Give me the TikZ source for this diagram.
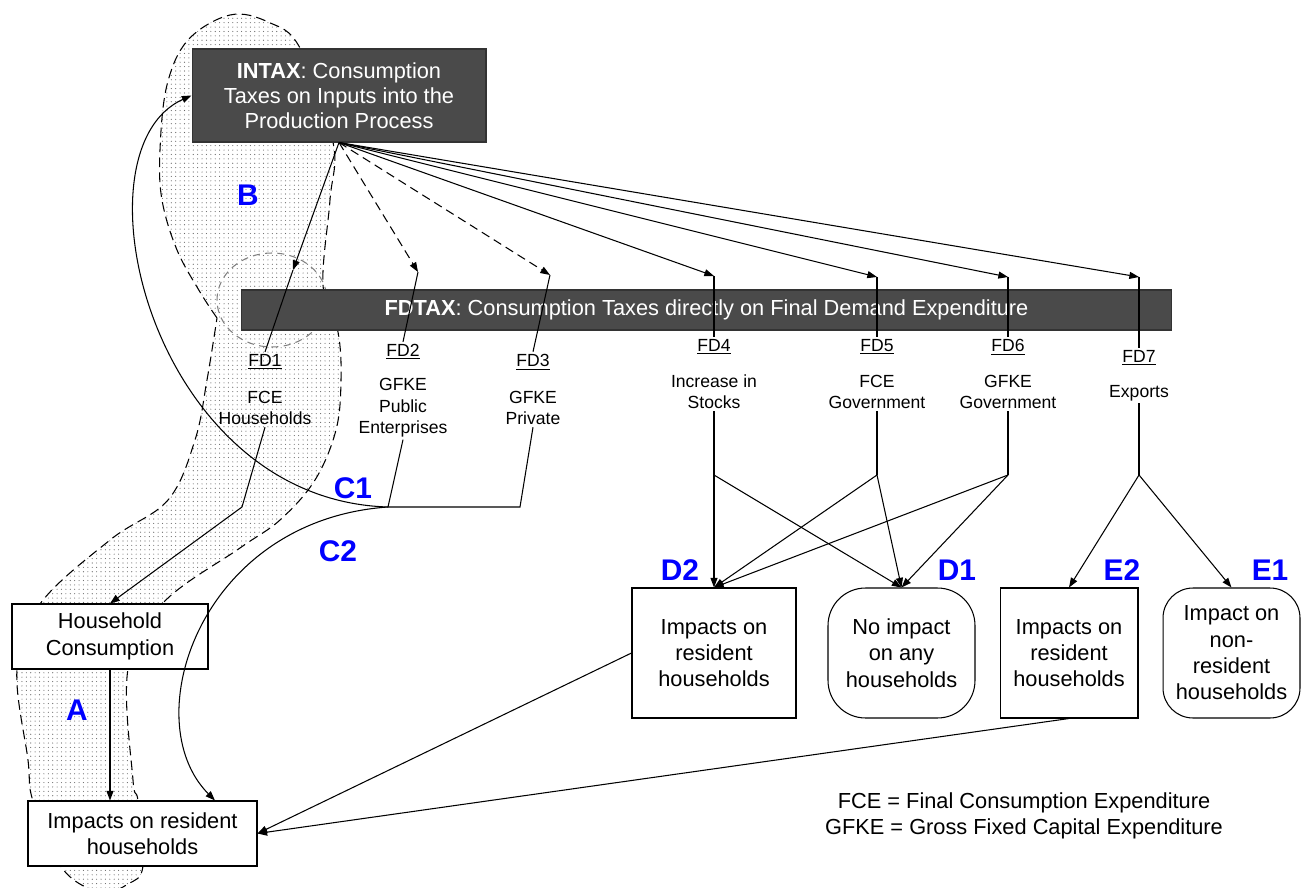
\documentclass[tikz,border=0pt]{standalone}
\usepackage{fontspec}
\setmainfont{Liberation Sans}
\usetikzlibrary{arrows.meta,patterns.meta}
\definecolor{taxgrey}{RGB}{74,74,74}
\definecolor{zoneblue}{RGB}{0,0,255}
\tikzset{
  taxbox/.style={draw=black!80, fill=taxgrey, text=white, align=center, inner sep=0pt,
    font=\fontsize{12.4}{14.2}\selectfont},
  outbox/.style={draw, fill=white, align=center, inner sep=0pt, font=\fontsize{12.4}{15}\selectfont},
  fdnum/.style={font=\fontsize{10}{12}\selectfont, inner sep=1pt},
  fdtext/.style={align=center, font=\fontsize{10}{12.2}\selectfont, inner sep=1pt},
  zone/.style={text=zoneblue, font=\fontsize{17}{17}\selectfont\bfseries},
  flow/.style={-{Triangle[length=5.5pt,width=4pt]}},
  dashflow/.style={flow, dash pattern=on 5pt off 3pt},
  region/.style={dash pattern=on 5.5pt off 3pt, pattern={Dots[distance=2.5pt,radius=0.32pt]}, pattern color=black!60}
}
\begin{document}
\begin{tikzpicture}[x=0.02cm,y=-0.02cm,line width=0.6pt]
\useasboundingbox (0,0) rectangle (1301,888);

% shaded zones A and B
\draw[region] plot[smooth, tension=0.6] coordinates {(217,318) (200,292) (177,250) (162,200) (160,150)
  (167,85) (188,40) (230,15) (268,22) (300,48) (333,142) (330,200) (323,285) (338,332) (341,380)
  (336,430) (315,480) (280,520) (240,548) (163,603) (128,669) (133,780) (138,801) (143,866)
  (128,884) (100,892) (62,868) (33,801) (28,760) (17,669) (40,604) (110,540) (168,500)
  (195,440) (207,380) (217,318)} -- cycle;
\draw[gray, dash pattern=on 4pt off 3pt] (272,300) ellipse [x radius=55, y radius=47];

% tax boxes
\node[taxbox, minimum width=5.88cm, minimum height=1.86cm] (intax) at (339,95.5)
  {\textbf{INTAX}: Consumption\\Taxes on Inputs into the\\Production Process};
\node[taxbox, minimum width=18.62cm, minimum height=0.8cm] (fdtax) at (706.5,310)
  {\textbf{FDTAX}: Consumption Taxes directly on Final Demand Expenditure};

% final demand categories
\foreach \n/\x/\y in {1/265/362,2/403/352,3/533/362,4/714/347,5/877/347,6/1008/347,7/1139/358}
  \node[fdnum] (fd\n) at (\x,\y) {\underline{FD\n}};
\node[fdtext] (hh) at (265,408) {FCE\\Households};
\node[fdtext] (gfpub) at (403,408) {GFKE\\Public\\Enterprises};
\node[fdtext] (gfpriv) at (533,408) {GFKE\\Private};
\node[fdtext] (stocks) at (714,392) {Increase in\\Stocks};
\node[fdtext] (fcegov) at (877,392) {FCE\\Government};
\node[fdtext] (gfgov) at (1008,392) {GFKE\\Government};
\node[fdtext] (exports) at (1139,393) {Exports};

% impact boxes
\node[outbox, minimum width=3.92cm, minimum height=1.3cm] (hc) at (110,636.5) {Household\\Consumption};
\node[outbox, minimum width=4.58cm, minimum height=1.3cm] (imp) at (142.5,833.5) {Impacts on resident\\households};
\node[outbox, minimum width=3.28cm, minimum height=2.6cm] (d2) at (714,653) {Impacts on\\resident\\households};
\node[outbox, rounded corners=0.75cm, minimum width=2.94cm, minimum height=2.6cm] (d1) at (901.5,653) {No impact\\on any\\households};
\node[outbox, minimum width=2.76cm, minimum height=2.6cm] (e2) at (1069,653) {Impacts on\\resident\\households};
\node[outbox, rounded corners=0.6cm, minimum width=2.74cm, minimum height=2.6cm] (e1) at (1231.5,653) {Impact on\\non-\\resident\\households};

% zone labels
\node[zone] (zoneA) at (77,710) {A};
\node[zone] (zoneB) at (248,195) {B};
\node[zone] (zoneC1) at (353,488) {C1};
\node[zone] (zoneC2) at (338,551) {C2};
\node[zone] (zoneD2) at (680,570) {D2};
\node[zone] (zoneD1) at (957,570) {D1};
\node[zone] (zoneE2) at (1122,570) {E2};
\node[zone] (zoneE1) at (1270,570) {E1};

\node[align=center, font=\fontsize{12.4}{14.8}\selectfont] (legend) at (1024,816)
  {FCE = Final Consumption Expenditure\\GFKE = Gross Fixed Capital Expenditure};

% INTAX to final demand
\foreach \n/\x/\y in {1/293/270,2/418/272,3/550/275,4/714/276,5/877/277,6/1008/277,7/1139/277}
  \coordinate (tip\n) at (\x,\y);
\foreach \n in {1,4,5,6,7}
  \draw[flow] (intax.south) -- (tip\n);
\foreach \n in {2,3}
  \draw[dashflow] (intax.south) -- (tip\n);
\foreach \n in {1,...,7}
  \draw (tip\n) -- (fd\n.north);

% households and enterprises
\coordinate (bendhh) at (242,507);
\coordinate (join) at (388,507);
\coordinate (bendpriv) at (520,507);
\draw[flow] (hh.south) -- (bendhh) -- (hc.north);
\draw (gfpub.south) -- (join);
\draw (gfpriv.south) -- (bendpriv) -- (join);
\draw[flow] (join) .. controls (150,500) and (70,150) .. (intax.west);
\draw[flow] (join) .. controls (200,520) and (135,720) .. ([xshift=1.45cm]imp.north);
\draw[flow] (hc.south) -- (hc.south |- imp.north);
\draw[flow] (d2.west) -- (imp.east);
\draw[flow] (e2.south) -- (imp.east);

% stocks, government, exports
\coordinate (br4) at (714,475);
\coordinate (br5) at (877,475);
\coordinate (br6) at (1008,475);
\coordinate (br7) at (1139,475);
\draw[flow] (stocks.south) -- (d2.north);
\draw[flow] (br4) -- (d1.north);
\draw (fcegov.south) -- (br5);
\draw (gfgov.south) -- (br6);
\draw (exports.south) -- (br7);
\foreach \b in {br5,br6}{
  \draw[flow] (\b) -- (d2.north);
  \draw[flow] (\b) -- (d1.north);
}
\draw[flow] (br7) -- (e2.north);
\draw[flow] (br7) -- (e1.north);
\end{tikzpicture}
\end{document}
